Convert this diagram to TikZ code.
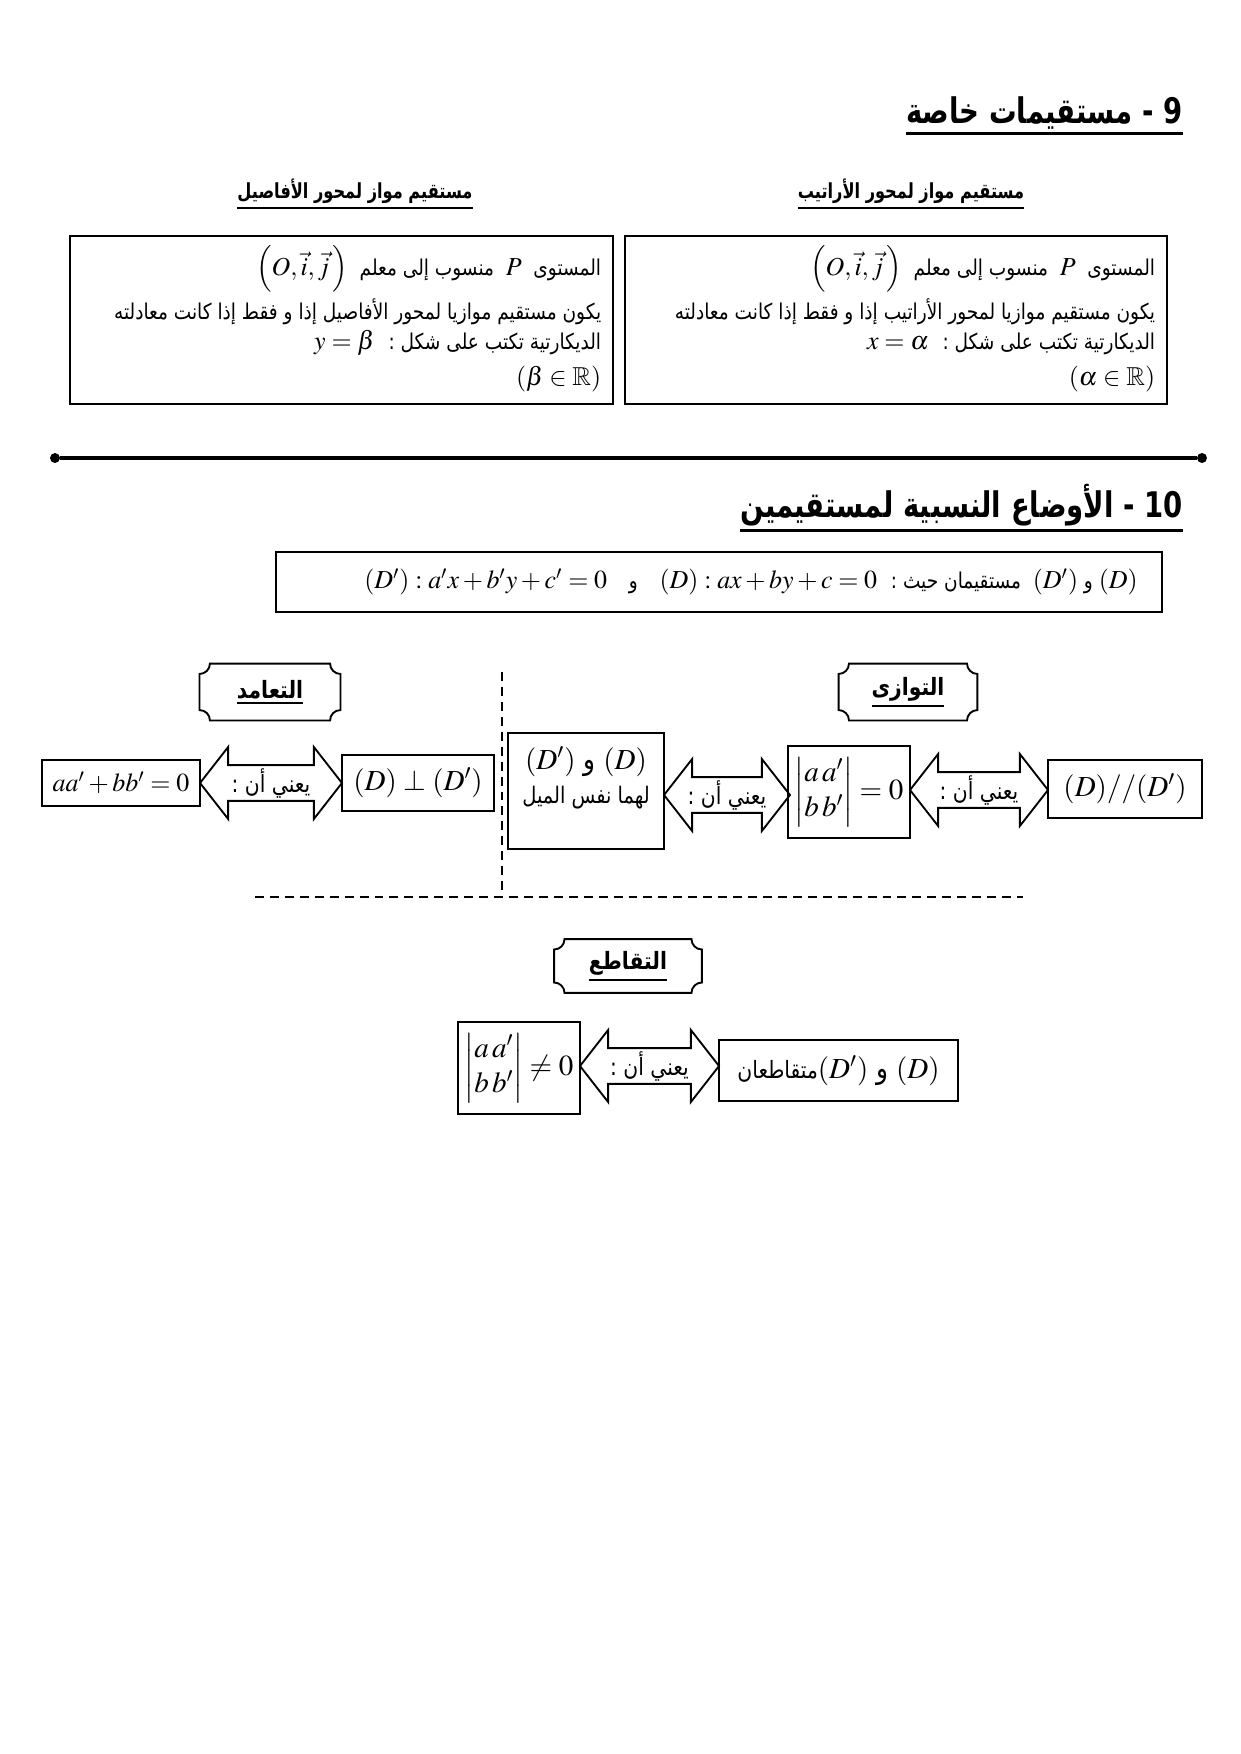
\documentclass[tikz,border=0pt]{standalone}
\usepackage{amsmath}
\usepackage{amssymb}
\usepackage{mathptmx}
\usepackage{fontspec}
\newfontfamily\arabicfont[Script=Arabic,FakeStretch=0.85]{DejaVu Sans}
\newfontfamily\arabicnarrow[Script=Arabic,FakeStretch=0.78]{DejaVu Sans}
\TeXXeTstate=1
\usepackage{tikz}
\usetikzlibrary{shapes.arrows}
\newcommand{\artext}[1]{{\arabicfont\beginR #1\endR}}
\newcommand{\artitle}[1]{{\arabicnarrow\beginR #1\endR}}
\newcommand{\mth}[1]{{\fontsize{12.5}{14}\selectfont$#1$}}
\newcommand{\ulin}[2][1pt]{\vtop{\hbox{#2}\kern1.5pt\hrule height #1}}

\begin{document}
\begin{tikzpicture}[x=0.4819pt,y=-0.4819pt,font=\fontsize{10.5}{14.5}\selectfont]
    \tikzstyle{box}=[draw,line width=0.9pt,inner sep=2pt]
    \tikzstyle{rowbox}=[box,font=\fontsize{14}{17}\selectfont]
    \tikzstyle{twoway}=[double arrow,draw,line width=0.9pt,double arrow head extend=8.7pt,double arrow tip angle=104,minimum width=34.7pt,inner sep=1pt,font=\fontsize{11.5}{14}\selectfont]
    \tikzstyle{head}=[minimum height=27pt,inner sep=0pt,font=\fontsize{11.5}{14}\selectfont\bfseries]
    \tikzstyle{dot}=[circle,fill=black,minimum size=4.8pt,inner sep=0]
    \tikzstyle{dashline}=[line width=1.3pt,dash pattern=on 4.3pt off 2.9pt]
    \useasboundingbox (0,0) rectangle (1240,1754);
    \node[anchor=east] (t9) at (1190,116) {\fontsize{17}{20}\selectfont\bfseries\ulin[1.5pt]{\artitle{9 - مستقيمات خاصة}}};
    \node (sord) at (911,194) {\fontsize{10}{12}\selectfont\bfseries\ulin{\artitle{مستقيم مواز لمحور الأراتيب}}};
    \node (sabs) at (355,194) {\fontsize{10}{12}\selectfont\bfseries\ulin{\artitle{مستقيم مواز لمحور الأفاصيل}}};
    \node[box,minimum width=261.2pt,minimum height=81pt] (ordbox) at (896,320) {};
    \node[anchor=north east,align=right,inner sep=0pt] (ordtxt) at ([xshift=-6pt,yshift=-5pt]ordbox.north east)
        {\artext{المستوى \ \mth{P} \ منسوب إلى معلم \ \mth{\left(O,\vec{i},\vec{j}\,\right)}}\\[2pt]
         \artext{يكون مستقيم موازيا لمحور الأراتيب إذا و فقط إذا كانت معادلته}\\
         \artext{الديكارتية تكتب على شكل : \ \mth{x=\alpha}}\\[3pt]
         \artext{\mth{\left(\alpha\in\mathbb{R}\right)}}};
    \node[box,minimum width=261.7pt,minimum height=81pt] (absbox) at (341.5,320) {};
    \node[anchor=north east,align=right,inner sep=0pt] (abstxt) at ([xshift=-6pt,yshift=-5pt]absbox.north east)
        {\artext{المستوى \ \mth{P} \ منسوب إلى معلم \ \mth{\left(O,\vec{i},\vec{j}\,\right)}}\\[2pt]
         \artext{يكون مستقيم موازيا لمحور الأفاصيل إذا و فقط إذا كانت معادلته}\\
         \artext{الديكارتية تكتب على شكل : \ \mth{y=\beta}}\\[3pt]
         \artext{\mth{\left(\beta\in\mathbb{R}\right)}}};
    \node[dot] (dl) at (55,458) {};
    \node[dot] (dr) at (1202,458) {};
    \draw[line width=1.5pt] (dl) -- (dr);
    \node[anchor=east] (t10) at (1190,508) {\fontsize{17}{20}\selectfont\bfseries\ulin[1.5pt]{\artitle{10 - الأوضاع النسبية لمستقيمين}}};
    \node[box,minimum width=427pt,minimum height=28.9pt] (eqbox) at (719,582) {};
    \node (eqtxt) at (751,582) {\artext{\mth{(D)} و \mth{(D')} \ مستقيمان حيث : \ \mth{(D):ax+by+c=0}\quad و\quad \mth{(D'):a'x+b'y+c'=0}}};
    \node[head,minimum width=67.5pt] (hperp) at (270,692) {\ulin{\artext{التعامد}}};
    \node[head,minimum width=66.5pt] (hpar) at (908,692) {\ulin{\artext{التوازى}}};
    \node[head,minimum width=70.8pt,minimum height=25.5pt] (hint) at (628,966) {\ulin{\artext{التقاطع}}};
    \foreach \h in {hperp,hpar,hint}
        \draw[line width=0.9pt] ([xshift=5pt]\h.north west) -- ([xshift=-5pt]\h.north east)
            arc[start angle=180,end angle=270,radius=5pt] -- ([yshift=5pt]\h.south east)
            arc[start angle=90,end angle=180,radius=5pt] -- ([xshift=5pt]\h.south west)
            arc[start angle=0,end angle=90,radius=5pt] -- ([yshift=-5pt]\h.north west)
            arc[start angle=270,end angle=360,radius=5pt] -- cycle;
    \draw[dashline] (502,672) -- (502,897);
    \draw[dashline] (255,897) -- (1023,897);
    \node[rowbox,minimum width=76.1pt,minimum height=22.2pt,font=\fontsize{12.5}{15}\selectfont] (sum) at (121,783) {$aa'+bb'=0$};
    \node[twoway,minimum height=68.4pt] (a1) at (271,783) {\artext{يعني أن :}};
    \node[rowbox,minimum width=73.2pt,minimum height=27pt] (perp) at (418,783) {$(D)\perp(D')$};
    \node[rowbox,minimum width=75.2pt,minimum height=55.9pt] (slope) at (586,791) {};
    \node[anchor=north,align=center,inner sep=0pt] (slopetxt) at ([yshift=-7pt]slope.north)
        {\artext{\fontsize{14}{17}\selectfont$(D)$ و $(D')$}\\[2pt] \artext{\fontsize{11}{13}\selectfont لهما نفس الميل}};
    \node[twoway,minimum height=60.7pt] (a2) at (727,795) {\artext{يعني أن :}};
    \node[rowbox,minimum width=58.8pt,minimum height=44.3pt] (det) at (849,792) {$\begin{vmatrix}a\,a'\\ b\,b'\end{vmatrix}=0$};
    \node[twoway,minimum height=66.5pt] (a3) at (979,790) {\artext{يعني أن :}};
    \node[rowbox,minimum width=74.2pt,minimum height=27.9pt] (par) at (1125,789) {$(D)//(D')$};
    \node[rowbox,minimum width=58.8pt,minimum height=44.3pt] (detne) at (519,1068) {$\begin{vmatrix}a\,a'\\ b\,b'\end{vmatrix}\neq0$};
    \node[twoway,minimum height=67pt] (a4) at (649.5,1066) {\artext{يعني أن :}};
    \node[rowbox,minimum width=115.2pt,minimum height=29.4pt] (inter) at (838.5,1070.5) {\artext{$(D)$ و $(D')$\fontsize{11.5}{14}\selectfont متقاطعان}};
\end{tikzpicture}
\end{document}
